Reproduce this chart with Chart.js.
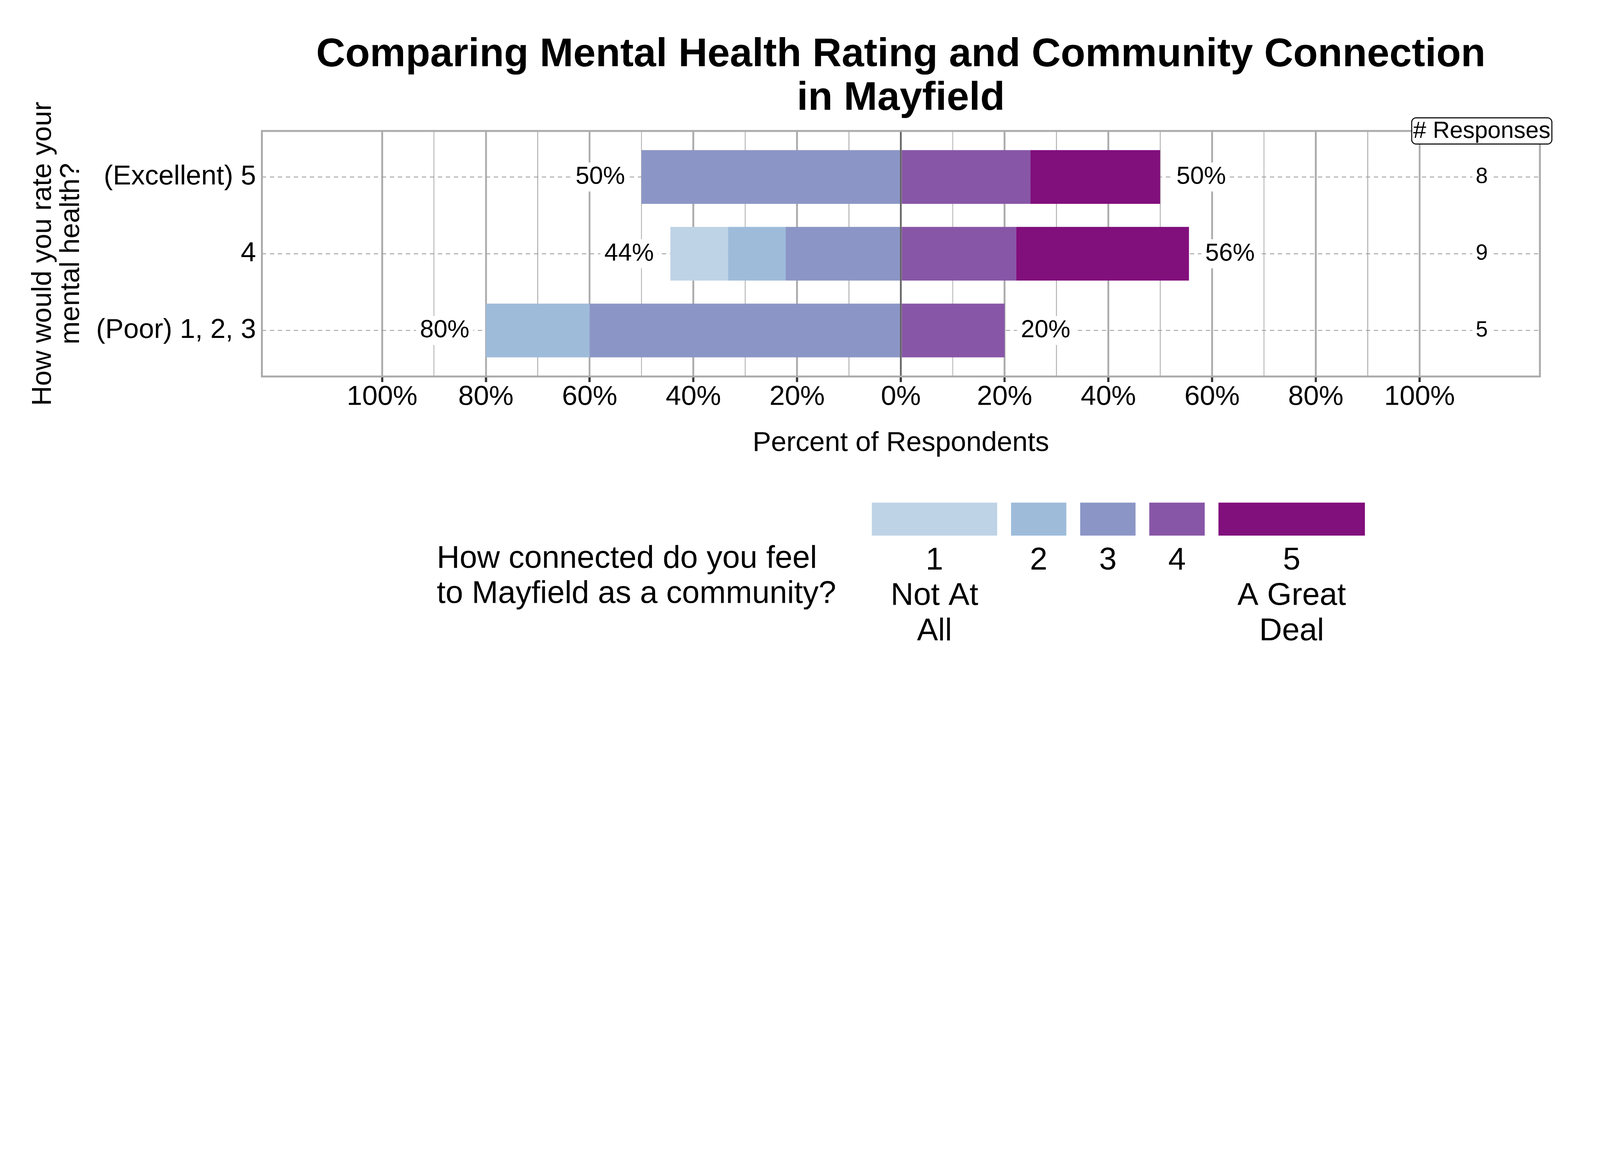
<!DOCTYPE html>
<html>
<head>
<meta charset="utf-8">
<script src="https://cdn.jsdelivr.net/npm/chart.js@4.4.1/dist/chart.umd.min.js"></script>
<style>
  html, body { margin: 0; padding: 0; background: #fff; overflow: hidden; }
  #wrap { width: 6600px; height: 3000px; transform-origin: 0 0; }
</style>
</head>
<body>
<div id="wrap"><canvas id="chart" width="6600" height="3000"></canvas></div>
<script>
// mental health rating groups, top to bottom
const categories = ['(Excellent) 5', '4', '(Poor) 1, 2, 3'];
const responses = [8, 9, 5];

// percent of respondents at each connection level
const level1 = [0, 11.11, 0];
const level2 = [0, 11.11, 20];
const level3 = [50, 22.22, 60];
const level4 = [25, 22.22, 20];
const level5 = [25, 33.33, 0];

const levelColors = ['#bfd3e6', '#9ebcda', '#8c96c6', '#8856a7', '#810f7c'];
const levelLabels = [['1', 'Not At', 'All'], ['2'], ['3'], ['4'], ['5', 'A Great', 'Deal']];
const legendQuestion = ['How connected do you feel', 'to Mayfield as a community?'];

const xTickValues = [-100, -90, -80, -70, -60, -50, -40, -30, -20, -10, 0,
    10, 20, 30, 40, 50, 60, 70, 80, 90, 100];

const FONT = "'Liberation Sans', Arial, sans-serif";
const RESPONSES_AT = 112;

Chart.defaults.font.family = FONT;
Chart.defaults.color = '#000';

// the window may be narrower than the 6600px drawing, so shrink it to fit
let fit = Math.min(1, window.innerWidth / 6600, window.innerHeight / 3000);
document.getElementById('wrap').style.transform = 'scale(' + fit + ')';

function toPoints(values, sign) {
    return values.map(function (v, i) { return {x: sign * v, y: i}; });
}

function boxedText(ctx, text, x, y, align, padX, boxH) {
    let w = ctx.measureText(text).width;
    let left = align === 'right' ? x - w : (align === 'left' ? x : x - w / 2);
    ctx.fillStyle = '#fff';
    ctx.fillRect(left - padX, y - boxH / 2, w + 2 * padX, boxH);
    ctx.fillStyle = '#000';
    ctx.textAlign = align;
    ctx.textBaseline = 'middle';
    ctx.fillText(text, x, y);
}

const labelPlugin = {
    id: 'likertLabels',
    afterDraw(chart) {
        let ctx = chart.ctx,
            area = chart.chartArea,
            xs = chart.scales.x,
            ys = chart.scales.y;

        ctx.save();

        // plot frame
        ctx.lineWidth = 8;
        ctx.strokeStyle = '#ababab';
        ctx.strokeRect(area.left, area.top, area.right - area.left, area.bottom - area.top);

        // totals on each side of the bars
        ctx.font = '102px ' + FONT;
        for (let i = 0; i < categories.length; i++) {
            let left = level1[i] + level2[i] + level3[i];
            let right = level4[i] + level5[i];
            let yPos = ys.getPixelForValue(i);
            boxedText(ctx, Math.round(left) + '%', xs.getPixelForValue(-left) - 68, yPos, 'right', 16, 120);
            boxedText(ctx, Math.round(right) + '%', xs.getPixelForValue(right) + 67, yPos, 'left', 16, 120);
        }

        // response counts column
        let rx = xs.getPixelForValue(RESPONSES_AT);
        ctx.font = '90px ' + FONT;
        for (let i = 0; i < responses.length; i++) {
            boxedText(ctx, String(responses[i]), rx, ys.getPixelForValue(i), 'center', 14, 100);
        }

        ctx.font = '97px ' + FONT;
        let hw = ctx.measureText('# Responses').width + 12;
        ctx.beginPath();
        ctx.roundRect(rx - hw / 2, area.top - 54, hw, 108, 18);
        ctx.fillStyle = '#fff';
        ctx.fill();
        ctx.lineWidth = 4;
        ctx.strokeStyle = '#000';
        ctx.stroke();
        ctx.fillStyle = '#000';
        ctx.textAlign = 'center';
        ctx.textBaseline = 'middle';
        ctx.fillText('# Responses', rx, area.top + 2);

        // legend
        ctx.font = '130px ' + FONT;
        let qWidth = Math.max.apply(null, legendQuestion.map(function (t) { return ctx.measureText(t).width; }));
        let swatchWidths = levelLabels.map(function (lines) {
            return Math.max.apply(null, lines.map(function (t) { return ctx.measureText(t).width; })) + 156;
        });
        let gap = 57, afterQuestion = 147;
        let total = qWidth + afterQuestion + swatchWidths.reduce(function (a, b) { return a + b; }, 0) + gap * (swatchWidths.length - 1);
        let startX = (area.left + area.right) / 2 - total / 2;

        ctx.textBaseline = 'alphabetic';
        ctx.textAlign = 'left';
        ctx.fillStyle = '#000';
        legendQuestion.forEach(function (t, k) {
            ctx.fillText(t, startX, 2342 + k * 145);
        });

        let sx = startX + qWidth + afterQuestion;
        ctx.textAlign = 'center';
        for (let j = 0; j < levelLabels.length; j++) {
            ctx.fillStyle = levelColors[j];
            ctx.fillRect(sx, 2073, swatchWidths[j], 136);
            ctx.fillStyle = '#000';
            levelLabels[j].forEach(function (t, k) {
                ctx.fillText(t, sx + swatchWidths[j] / 2, 2349 + k * 146);
            });
            sx += swatchWidths[j] + gap;
        }

        ctx.restore();
    }
};

function gridValue(c) {
    return c.tick ? c.tick.value : 1;
}

let canvas = document.getElementById('chart');
let chart = new Chart(canvas.getContext('2d'), {
    type: 'bar',
    data: {
        datasets: [
            {label: '3', data: toPoints(level3, -1), backgroundColor: levelColors[2]},
            {label: '2', data: toPoints(level2, -1), backgroundColor: levelColors[1]},
            {label: '1', data: toPoints(level1, -1), backgroundColor: levelColors[0]},
            {label: '4', data: toPoints(level4, 1), backgroundColor: levelColors[3]},
            {label: '5', data: toPoints(level5, 1), backgroundColor: levelColors[4]}
        ]
    },
    options: {
        indexAxis: 'y',
        responsive: false,
        animation: false,
        devicePixelRatio: 1,
        barPercentage: 0.7,
        categoryPercentage: 1,
        inflateAmount: 0,
        borderWidth: 0,
        layout: {
            padding: {left: 0, right: 248, top: 0, bottom: 1047}
        },
        scales: {
            x: {
                type: 'linear',
                stacked: true,
                offset: false,
                min: -123.2,
                max: 123.2,
                afterBuildTicks: function (scale) {
                    scale.ticks = xTickValues.map(function (v) { return {value: v}; });
                },
                afterFit: function (scale) {
                    scale.height = 400;
                },
                ticks: {
                    autoSkip: false,
                    maxRotation: 0,
                    padding: 6,
                    font: {size: 114, lineHeight: 1},
                    color: '#000',
                    callback: function (value) {
                        return value % 20 === 0 ? Math.abs(value) + '%' : '';
                    }
                },
                grid: {
                    offset: false,
                    drawTicks: true,
                    tickLength: 23,
                    color: function (c) {
                        let v = gridValue(c);
                        if (v === 0) return '#666666';
                        return v % 20 === 0 ? '#ababab' : '#b3b3b3';
                    },
                    lineWidth: function (c) {
                        return gridValue(c) % 20 === 0 ? 7.5 : 3.8;
                    },
                    tickColor: function (c) {
                        return gridValue(c) % 20 === 0 ? '#333333' : 'rgba(0,0,0,0)';
                    },
                    tickWidth: 9
                },
                border: {display: false},
                title: {
                    display: true,
                    text: 'Percent of Respondents',
                    font: {size: 114, lineHeight: 1},
                    padding: {top: 0, bottom: 67},
                    color: '#000'
                }
            },
            y: {
                type: 'linear',
                stacked: true,
                reverse: true,
                offset: false,
                min: -0.6,
                max: 2.6,
                afterBuildTicks: function (scale) {
                    scale.ticks = categories.map(function (c, i) { return {value: i}; });
                },
                afterFit: function (scale) {
                    scale.width = 1080;
                },
                ticks: {
                    padding: 24,
                    font: {size: 113},
                    color: '#000',
                    callback: function (value) {
                        return categories[value];
                    }
                },
                grid: {
                    offset: false,
                    drawTicks: false,
                    color: '#9a9a9a',
                    lineWidth: 3.5
                },
                border: {display: false, dash: [18, 15]},
                title: {
                    display: true,
                    text: ['How would you rate your', 'mental health?'],
                    font: {size: 114, lineHeight: '116px'},
                    padding: {top: 121, bottom: 0},
                    color: '#000'
                }
            }
        },
        plugins: {
            legend: {display: false},
            tooltip: {enabled: false},
            title: {
                display: true,
                fullSize: false,
                text: ['Comparing Mental Health Rating and Community Connection', 'in Mayfield'],
                font: {size: 166, weight: 'bold', lineHeight: '180px'},
                padding: {top: 137, bottom: 43},
                color: '#000'
            }
        }
    },
    plugins: [labelPlugin]
});
</script>
</body>
</html>
